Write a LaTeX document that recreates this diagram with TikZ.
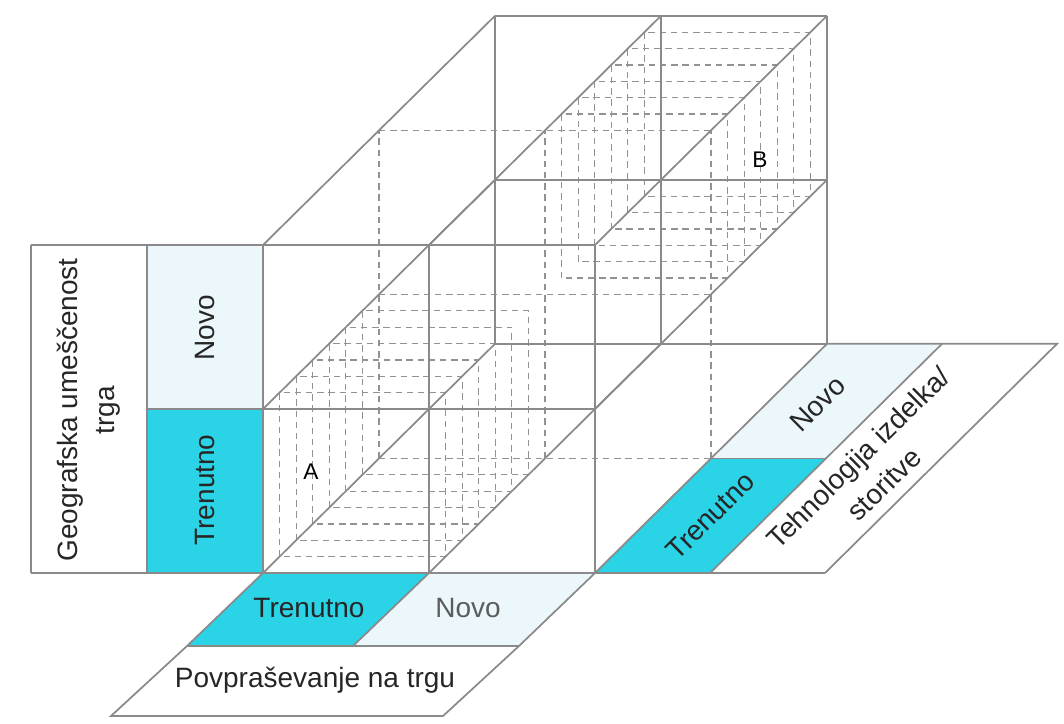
\documentclass[tikz,border=0pt]{standalone}
\usepackage{fontspec}
\setmainfont{Liberation Sans}
\definecolor{cyanfill}{HTML}{2BD3E7}
\definecolor{lightfill}{HTML}{ECF7FB}
\definecolor{edgegray}{HTML}{8A8A8A}
\definecolor{dashgray}{HTML}{929292}
\definecolor{labeltext}{HTML}{262626}
\begin{document}
\begin{tikzpicture}[x=0.75pt,y=-0.75pt,
  edge/.style={draw=edgegray,line width=1.3pt},
  hidden/.style={draw=dashgray,line width=0.95pt,dash pattern=on 4.8pt off 3.6pt},
  lbl/.style={font=\fontsize{21}{27.75}\selectfont,text=labeltext,align=center,inner sep=0pt},
  cellmark/.style={font=\fontsize{17}{20}\selectfont,text=black,inner sep=0pt}]
\useasboundingbox (0,0) rectangle (1064,724);
\fill[white] (0,0) rectangle (1064,724);

% lattice of the 2x2x2 cube: p<i><j><k>, i to the right, j upwards, k into depth
\foreach \i in {0,1,2}{\foreach \j in {0,1,2}{\foreach \k in {0,1,2}{
  \coordinate (p\i\j\k) at ({263+166*\i+116*\k},{573-164*\j-114.6*\k});
}}}

% points of the floor strips and of the left panel
\coordinate (f0) at (187,646);  \coordinate (f1) at (353,646);  \coordinate (f2) at (519,646);
\coordinate (g0) at (111,716);  \coordinate (g2) at (443,716);
\coordinate (t10) at (710,573); \coordinate (t20) at (825,573);
\coordinate (t11) at (826,458.4);
\coordinate (t12) at (942,343.8); \coordinate (t22) at (1057,343.8);
\coordinate (l0) at (31,245); \coordinate (l1) at (31,573);
\coordinate (m0) at (147,245); \coordinate (m1) at (147,409); \coordinate (m2) at (147,573);

% coloured cells
\fill[lightfill] (m0) rectangle (p010);
\fill[cyanfill] (m1) rectangle (p000);
\fill[cyanfill] (p000) -- (p100) -- (f1) -- (f0) -- cycle;
\fill[lightfill] (p100) -- (p200) -- (f2) -- (f1) -- cycle;
\fill[cyanfill] (p200) -- (t10) -- (t11) -- (p201) -- cycle;
\fill[lightfill] (p201) -- (t11) -- (t12) -- (p202) -- cycle;

% hidden middle layer of the cube
\foreach \j in {0,1,2} \draw[hidden] (p0\j1) -- (p2\j1);
\foreach \i in {0,1,2} \draw[hidden] (p\i01) -- (p\i21);
% slices through cell A (front, bottom, left)
\foreach \n in {1,...,6}
  \draw[hidden] ({263+116*\n/7},{573-114.6*\n/7}) rectangle ++(166,-164);
% slices through cell B (back, top, right)
\foreach \n in {1,...,6}
  \draw[hidden] ({429+116*(1+\n/7)},{409-114.6*(1+\n/7)}) rectangle ++(166,-164);

% label panel on the left
\draw[edge] (l0) -- (p220);
\draw[edge] (m1) -- (p210);
\draw[edge] (l1) -- (t20);
\draw[edge] (l0) -- (l1);
\draw[edge] (m0) -- (m2);
% front face
\foreach \i in {0,1,2} \draw[edge] (p\i00) -- (p\i20);
% back face
\foreach \j in {0,1,2} \draw[edge] (p0\j2) -- (p2\j2);
\foreach \i in {0,1,2} \draw[edge] (p\i02) -- (p\i22);
% edges in depth
\foreach \i/\j in {0/0,0/1,0/2,1/0,1/2,2/0,2/1,2/2} \draw[edge] (p\i\j0) -- (p\i\j2);

% floor strip on the right
\draw[edge] (p202) -- (t22) -- (t20);
\draw[edge] (t10) -- (t12);
\draw[edge] (p201) -- (t11);
% floor strip in front
\draw[edge] (p000) -- (f0) -- (g0) -- (g2) -- (f2) -- (p200);
\draw[edge] (f0) -- (f2);
\draw[edge] (p100) -- (f1);

% labels
\node[lbl,rotate=90] (geo) at (89,410) {Geografska umeščenost\\trga};
\node[lbl,rotate=90] (gnew) at (205,328) {Novo};
\node[lbl,rotate=90] (gcur) at (205,490) {Trenutno};
\node[lbl] (dcur) at (309,608) {Trenutno};
\node[lbl,text=labeltext!75] (dnew) at (468,608) {Novo};
\node[lbl] (dem) at (315,680) {Povpraševanje na trgu};
\node[lbl,rotate=44.65] (tcur) at (710.5,516) {Trenutno};
\node[lbl,rotate=44.65] (tnew) at (818,404) {Novo};
\node[lbl,rotate=44.65] (tech) at (871,471) {Tehnologija izdelka/\\storitve};
\node[cellmark] (ca) at (311,472) {A};
\node[cellmark] (cb) at (760,160) {B};
\end{tikzpicture}
\end{document}
